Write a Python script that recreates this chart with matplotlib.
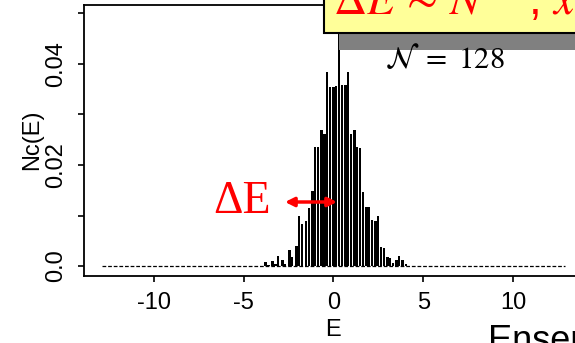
import matplotlib
matplotlib.use("Agg")
import matplotlib.pyplot as plt
from matplotlib.patches import Rectangle, FancyArrowPatch

# bar centres (E) and heights Nc(E)
energy = [-3.81, -3.64, -3.42, -3.25, -3.09, -2.86, -2.70, -2.47, -2.31, -2.08,
          -1.92, -1.75, -1.53, -1.36, -1.19, -1.03, -0.86, -0.69, -0.52, -0.36,
          -0.19, -0.02, 0.14, 0.31, 0.48, 0.65, 0.81, 0.98, 1.15, 1.31,
          1.48, 1.65, 1.82, 1.98, 2.15, 2.32, 2.48, 2.65, 2.82, 2.99,
          3.15, 3.32, 3.49, 3.65, 3.87, 4.04]
density = [0.0008, 0.0002, 0.0010, 0.0003, 0.0020, 0.0012, 0.0004, 0.0032, 0.0018, 0.0040,
           0.0100, 0.0083, 0.0090, 0.0115, 0.0148, 0.0236, 0.0236, 0.0269, 0.0262, 0.0384,
           0.0354, 0.0354, 0.0356, 0.0600, 0.0358, 0.0358, 0.0384, 0.0262, 0.0269, 0.0236,
           0.0234, 0.0147, 0.0117, 0.0117, 0.0092, 0.0090, 0.0100, 0.0038, 0.0036, 0.0018,
           0.0016, 0.0005, 0.0012, 0.0020, 0.0012, 0.0003]
tail_range = [-12.9, 12.9]

xticks = [-10, -5, 0, 5, 10]
xtick_labels = ["-10", "-5", "0", "5", "10"]
yticks = [0.0, 0.01, 0.02, 0.03, 0.04, 0.05]
ytick_labels = ["0.0", "", "0.02", "", "0.04", ""]

W, H = 575, 343
plt.rcParams["font.family"] = ["Liberation Sans", "DejaVu Sans"]
plt.rcParams["mathtext.fontset"] = "stix"


def px(x, y):
    return x / W, 1 - y / H


fig = plt.figure(figsize=(W / 100, H / 100), dpi=100)
ax = fig.add_axes([84 / W, 1 - 275.5 / H, 498.9 / W, 270.5 / H])

ax.plot(tail_range, [0.0, 0.0], color="black", lw=0.9, ls=(0, (3, 1.5)))
ax.bar(energy, density, width=0.16, color="black", linewidth=0)

ax.set_xlim(-13.9, 13.9)
ax.set_ylim(-0.00188, 0.05168)
ax.set_xticks(xticks)
ax.set_xticklabels(xtick_labels)
ax.set_yticks(yticks)
ax.set_yticklabels(ytick_labels)
ax.tick_params(direction="out", length=4, width=1.2, labelsize=17)
ax.tick_params(axis="x", pad=8)
ax.tick_params(axis="y", pad=8, labelrotation=90)
for lbl in ax.get_yticklabels():
    lbl.set_va("center")
for s in ax.spines.values():
    s.set_linewidth(1.3)

ax.set_xlabel("E", fontsize=17)
ax.set_ylabel("Nc(E)", fontsize=17)
ax.xaxis.set_label_coords(0.5, -0.16)
ax.yaxis.set_label_coords(-0.082, 0.5)

# overlay: shadow + yellow formula box
sx, sy = px(339, 49.5)
fig.add_artist(Rectangle((sx, sy), 1.0, 16.5 / H, transform=fig.transFigure,
                         facecolor="#808080", edgecolor="none", zorder=5))
bx, by = px(324, 33)
fig.add_artist(Rectangle((bx, by), 1.0, 1.0, transform=fig.transFigure,
                         facecolor="#ffff99", edgecolor="black", lw=1.5, zorder=6))
fig.text(*px(333, 14), r"$\Delta E\,\sim\,N^{1/2}$, $x$", fontsize=33, color="red",
         ha="left", va="baseline", zorder=7)

fig.text(*px(385, 68), r"$\mathcal{N}\ =\ 128$", fontsize=22, color="black",
         ha="left", va="baseline", zorder=7)

fig.text(*px(213, 213), "\u0394E", fontsize=33, color="red", family="Liberation Serif",
         ha="left", va="baseline", zorder=7)
fig.add_artist(FancyArrowPatch(px(285, 202), px(337, 202), transform=fig.transFigure,
                               arrowstyle="<|-|>", mutation_scale=13, color="red",
                               lw=2.5, shrinkA=0, shrinkB=0, zorder=7))

fig.text(*px(488, 351), "Ensemble", fontsize=26, color="black",
         ha="left", va="baseline")

fig.savefig("out.png", dpi=100)
